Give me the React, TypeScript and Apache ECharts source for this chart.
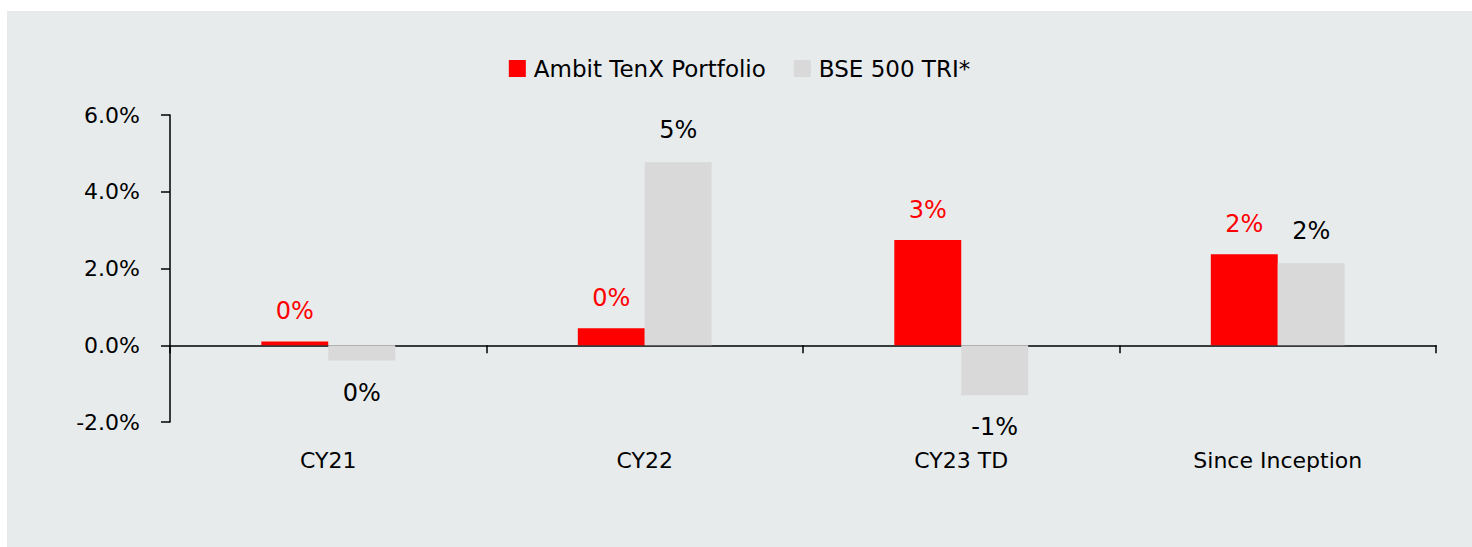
import React, { useEffect, useRef } from "react";
import * as echarts from "echarts";

const categories = ["CY21", "CY22", "CY23 TD", "Since Inception"];
const seriesNames = ["Ambit TenX Portfolio", "BSE 500 TRI*"];
const portfolioValues = [0.1, 0.44, 2.74, 2.37];
const benchmarkValues = [-0.4, 4.77, -1.3, 2.14];
const yTicks = { min: -2, max: 6, interval: 2 };

const FONT = "DejaVu Sans";

function buildData(values: number[]) {
  return values.map((v) => ({
    value: v,
    label: { position: v < 0 ? "bottom" : "top" },
  }));
}

export default function App() {
  const ref = useRef<HTMLDivElement>(null);

  useEffect(() => {
    document.body.style.margin = "0";
    if (!ref.current) return;
    const chart = echarts.init(ref.current, undefined, { renderer: "svg" });
    const labelFmt = (p: any) => `${Math.round(p.value)}%`;
    chart.setOption({
      animation: false,
      backgroundColor: "#e7ebec",
      textStyle: { fontFamily: FONT },
      legend: {
        data: seriesNames,
        top: 41,
        left: "center",
        itemWidth: 17,
        itemHeight: 17,
        itemGap: 28,
        icon: "rect",
        textStyle: { fontFamily: FONT, fontSize: 23, color: "#000", padding: [0, 0, 0, 3] },
      },
      grid: { left: 163, right: 36, top: 104, bottom: 125, containLabel: false },
      xAxis: [
        {
          type: "category",
          data: categories,
          position: "bottom",
          axisLine: { show: false, onZero: false },
          axisTick: { show: false },
          axisLabel: { fontFamily: FONT, fontSize: 22, color: "#000", margin: 27 },
          splitLine: { show: false },
        },
        {
          type: "category",
          data: categories,
          position: "bottom",
          axisLine: { show: true, onZero: true, onZeroAxisIndex: 0, lineStyle: { color: "#000", width: 1.5 } },
          axisTick: { show: true, length: 8, lineStyle: { color: "#000", width: 1.5 } },
          axisLabel: { show: false },
          splitLine: { show: false },
        },
      ],
      yAxis: {
        type: "value",
        min: yTicks.min,
        max: yTicks.max,
        interval: yTicks.interval,
        axisLine: { show: true, lineStyle: { color: "#000", width: 1.5 } },
        axisTick: { show: true, length: 9, lineStyle: { color: "#000", width: 1.5 } },
        axisLabel: {
          fontFamily: FONT,
          fontSize: 22,
          color: "#000",
          margin: 30,
          formatter: (v: number) => `${v.toFixed(1)}%`,
        },
        splitLine: { show: false },
      },
      series: [
        {
          name: seriesNames[0],
          type: "bar",
          xAxisIndex: 0,
          data: buildData(portfolioValues),
          barGap: "0%",
          barCategoryGap: "57.7%",
          itemStyle: { color: "#ff0000" },
          label: {
            show: true,
            distance: 18,
            fontFamily: FONT,
            fontSize: 24,
            color: "#ff0000",
            formatter: labelFmt,
          },
        },
        {
          name: seriesNames[1],
          type: "bar",
          xAxisIndex: 0,
          data: buildData(benchmarkValues),
          barGap: "0%",
          barCategoryGap: "57.7%",
          itemStyle: { color: "#d9d9d9" },
          label: {
            show: true,
            distance: 20,
            fontFamily: FONT,
            fontSize: 24,
            color: "#000",
            formatter: labelFmt,
          },
        },
      ],
    });
    return () => chart.dispose();
  }, []);

  return (
    <div style={{ position: "relative", width: 1472, height: 547, background: "#fff" }}>
      <div
        ref={ref}
        style={{ position: "absolute", left: 7, top: 11, width: 1465, height: 536 }}
      />
    </div>
  );
}
